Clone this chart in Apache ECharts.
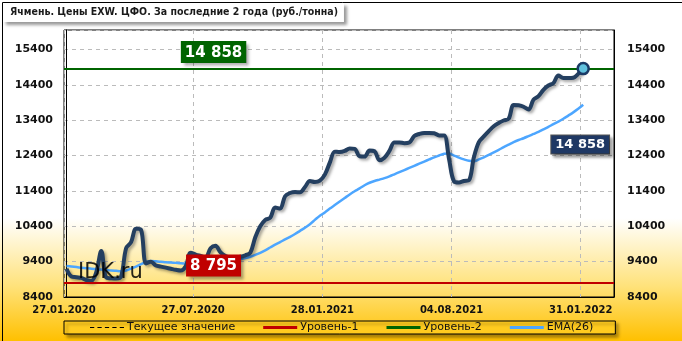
<!DOCTYPE html>
<html><head><meta charset="utf-8">
<script src="https://cdn.jsdelivr.net/npm/echarts@6/dist/echarts.min.js"></script>
<style>html,body{margin:0;padding:0;background:#fff}#c{width:682px;height:341px}</style>
</head><body><div id="c"></div>
<script>
const titleText = 'Ячмень. Цены EXW. ЦФО. За последние 2 года (руб./тонна)';
const tickLabels = ['27.01.2020','27.07.2020','28.01.2021','04.08.2021','31.01.2022'];
const yTicks = [8400, 9400, 10400, 11400, 12400, 13400, 14400, 15400];
const prices = [
 9200, 8980, 8960, 8940, 8880, 8860, 9100, 9700, 8950, 8930,
 8920, 8980, 9780, 9950, 10330, 10300, 9350, 9400, 9290, 9260,
 9230, 9200, 9170, 9150, 9270, 9650, 9600, 9560, 9520, 9780,
 9850, 9660, 9560, 9520, 9530, 9540, 9580, 9650, 10090, 10400,
 10580, 10640, 10930, 10900, 11250, 11340, 11370, 11360, 11510, 11680,
 11650, 11690, 11860, 12200, 12510, 12500, 12530, 12600, 12590, 12380,
 12370, 12540, 12520, 12270, 12340, 12530, 12770, 12770, 12750, 12770,
 12950, 13010, 13040, 13040, 13030, 12970, 12970, 12300, 11670, 11640,
 11680, 11700, 12350, 12780, 12940, 13090, 13230, 13320, 13390, 13440,
 13830, 13820, 13780, 13700, 13980, 14080, 14260, 14380, 14450, 14660,
 14590, 14590, 14600, 14710, 14858
];
const ema26 = [
 9275, 9260, 9245, 9230, 9215, 9200, 9190, 9180, 9165, 9150,
 9140, 9130, 9150, 9200, 9260, 9330, 9390, 9420, 9410, 9400,
 9385, 9375, 9365, 9355, 9350, 9355, 9360, 9365, 9370, 9375,
 9380, 9395, 9410, 9430, 9450, 9470, 9500, 9540, 9590, 9650,
 9720, 9800, 9880, 9950, 10030, 10100, 10180, 10270, 10360, 10460,
 10580, 10700, 10790, 10900, 11000, 11100, 11200, 11300, 11390, 11470,
 11560, 11630, 11680, 11720, 11760, 11810, 11870, 11930, 11990, 12050,
 12110, 12170, 12230, 12290, 12350, 12400, 12450, 12460, 12400, 12340,
 12290, 12250, 12240, 12290, 12350, 12420, 12490, 12560, 12640, 12710,
 12780, 12840, 12890, 12950, 13010, 13070, 13140, 13210, 13290, 13360,
 13440, 13530, 13620, 13720, 13835
];
const level1 = 8795;
const level2 = 14858;
const currentValue = 14858;
const levelLabelIdx = 29.6;

const fmt = v => String(v).replace(/\B(?=(\d{3})+(?!\d))/g, ' ');
const last = prices.length - 1;
const chart = echarts.init(document.getElementById('c'), null, {renderer: 'canvas'});
const dash = 'path://M0 0h4v1h-4z M7 0h4v1h-4z M14 0h4v1h-4z M21 0h4v1h-4z M28 0h4v1h-4z';
const boxLabel = (bg, size, pad) => ({
  show: true, color: '#fff', fontWeight: 'bold', fontSize: size,
  fontFamily: 'DejaVu Sans', backgroundColor: bg, padding: pad,
  shadowColor: 'rgba(0,0,0,0.35)', shadowBlur: 3, shadowOffsetX: 3, shadowOffsetY: 3
});
const yAxisCommon = {
  type: 'value', min: 8400, max: 15950, interval: 1000,
  axisLine: {show: true, lineStyle: {color: '#000', width: 1}},
  axisTick: {show: false},
  splitLine: {show: true, lineStyle: {color: '#bbb', type: [4, 4], width: 1}},
  axisLabel: {showMaxLabel: false, color: '#111', fontWeight: 'bold', fontSize: 11, fontFamily: 'DejaVu Sans',
    formatter: v => String(v)}
};
chart.setOption({
  animation: false,
  backgroundColor: {type: 'linear', x: 0, y: 0, x2: 0, y2: 1, colorStops: [
    {offset: 0, color: '#ffffff'}, {offset: 0.64, color: '#ffffff'},
    {offset: 0.84, color: '#FFE27A'}, {offset: 1, color: '#FFC000'}]},
  title: {
    text: titleText, left: 3, top: 3, padding: [4, 6, 4, 7], backgroundColor: '#fff',
    shadowColor: 'rgba(0,0,0,0.4)', shadowBlur: 3, shadowOffsetX: 3, shadowOffsetY: 3,
    textStyle: {fontSize: 10.5, fontWeight: 'bold', color: '#1a1a1a', fontFamily: 'DejaVu Sans Condensed, Liberation Sans Narrow, sans-serif'}
  },
  grid: {left: 64, right: 68, top: 30, bottom: 44, show: true, borderColor: '#000', borderWidth: 1},
  xAxis: {
    type: 'value', min: -0.5, max: 110.2, interval: 26,
    axisLine: {show: true, lineStyle: {color: '#000'}}, axisTick: {show: false},
    splitLine: {show: true, lineStyle: {color: '#bbb', type: [4, 4], width: 1}},
    axisLabel: {showMaxLabel: false, margin: 8, color: '#111', fontWeight: 'bold', fontSize: 10, fontFamily: 'DejaVu Sans',
      formatter: v => tickLabels[Math.round((v + 0.5) / 26)] || ''}
  },
  yAxis: [
    Object.assign({}, yAxisCommon, {position: 'left', axisLabel: Object.assign({}, yAxisCommon.axisLabel, {margin: 11})}),
    Object.assign({}, yAxisCommon, {position: 'right', splitLine: {show: false}, axisLabel: Object.assign({}, yAxisCommon.axisLabel, {margin: 13})})
  ],
  legend: {
    left: 64, top: 321, padding: [1, 22, 1, 26], itemGap: 28, itemWidth: 34, itemHeight: 3,
    borderColor: '#000', borderWidth: 1, backgroundColor: '#FFCB1F',
    shadowColor: 'rgba(0,0,0,0.35)', shadowBlur: 3, shadowOffsetX: 3, shadowOffsetY: 3,
    textStyle: {fontSize: 11, color: '#111', fontFamily: 'DejaVu Sans', padding: [0, 0, 0, -2]},
    data: [
      {name: 'Текущее значение', icon: dash, itemStyle: {color: '#000'}},
      {name: 'Уровень-1', icon: 'rect', itemStyle: {color: '#C00000'}},
      {name: 'Уровень-2', icon: 'rect', itemStyle: {color: '#006400'}},
      {name: 'EMA(26)', icon: 'rect', itemStyle: {color: '#4DA6FF'}}
    ]
  },
  graphic: [
    {type: 'text', left: 78, top: 262, z: 100, style: {text: 'IDK.ru', font: '21px "DejaVu Sans"', fill: 'rgba(0,0,0,0.85)'}},
    {type: 'rect', left: 0, top: 0, z: 100, shape: {x: 0, y: 0, width: 681, height: 340}, style: {fill: 'none', stroke: '#000', lineWidth: 1}}
  ],
  series: [
    {name: 'Текущее значение', type: 'line', data: [], markLine: {symbol: 'none', silent: true, label: {show: false},
      lineStyle: {color: '#000', type: 'dashed', width: 1}, data: [{yAxis: currentValue}]}},
    {name: 'Уровень-1', type: 'line', data: [], markLine: {symbol: 'none', silent: true, label: {show: false},
      lineStyle: {color: '#C00000', type: 'solid', width: 2}, data: [{yAxis: level1}]}},
    {name: 'Уровень-2', type: 'line', data: [], markLine: {symbol: 'none', silent: true, label: {show: false},
      lineStyle: {color: '#006400', type: 'solid', width: 2}, data: [{yAxis: level2}]}},
    {name: 'EMA(26)', type: 'line', data: ema26.map((v, i) => [i, v]), showSymbol: false, smooth: 0.3, z: 3,
      lineStyle: {color: '#4DA6FF', width: 2.5}},
    {name: 'Цена', type: 'line', data: prices.map((v, i) => [i, v]), showSymbol: false, smooth: 0.35, z: 4,
      lineStyle: {color: '#243F60', width: 4, shadowColor: 'rgba(0,0,0,0.35)', shadowBlur: 3, shadowOffsetX: 2, shadowOffsetY: 2},
      markPoint: {silent: true, data: [
        {coord: [last, prices[last]], symbol: 'circle', symbolSize: 11,
          itemStyle: {color: '#62C2DE', borderColor: '#1A3A66', borderWidth: 2.5}, label: {show: false}},
        {coord: [last, prices[last]], symbol: 'rect', symbolSize: 1, itemStyle: {color: 'rgba(0,0,0,0)'},
          label: Object.assign(boxLabel('#1F3864', 13, [3, 4, 2, 4]), {position: 'inside', offset: [-3, 76], formatter: fmt(currentValue), borderColor: '#555', borderWidth: 1})},
        {coord: [levelLabelIdx, level2], symbol: 'rect', symbolSize: 1, itemStyle: {color: 'rgba(0,0,0,0)'},
          label: Object.assign(boxLabel('#006400', 15, [4, 4, 3, 4]), {position: 'top', distance: 5, formatter: fmt(level2)})},
        {coord: [levelLabelIdx, level1], symbol: 'rect', symbolSize: 1, itemStyle: {color: 'rgba(0,0,0,0)'},
          label: Object.assign(boxLabel('#C00000', 15, [4, 4, 3, 4]), {position: 'top', distance: 6, formatter: fmt(level1)})}
      ]}}
  ]
});
</script></body></html>
